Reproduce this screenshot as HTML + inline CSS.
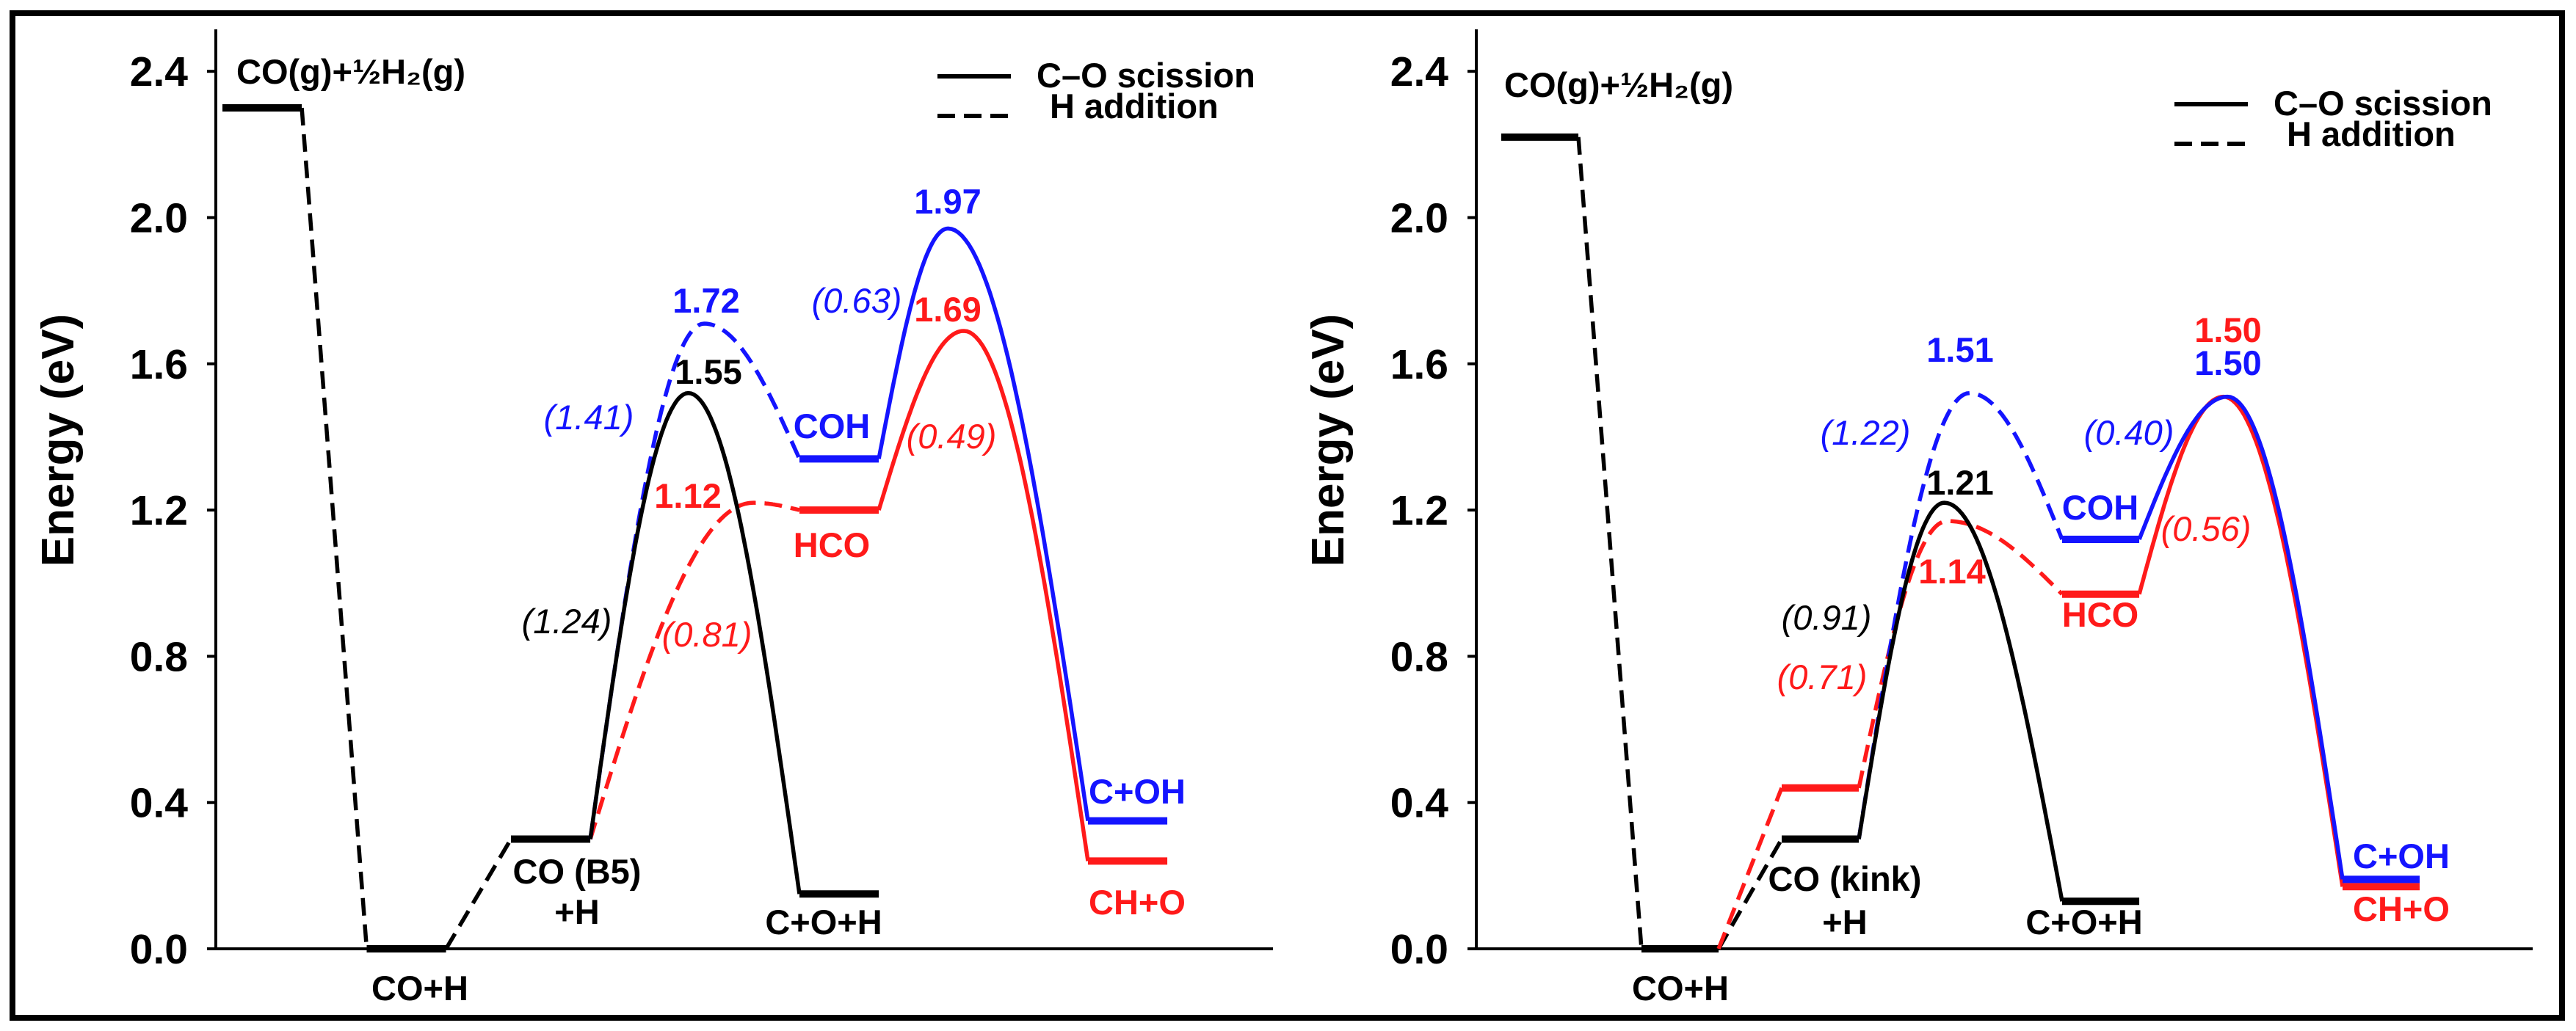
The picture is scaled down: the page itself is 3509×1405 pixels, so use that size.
<!DOCTYPE html>
<html><head><meta charset="utf-8">
<style>
html,body{margin:0;padding:0;background:#fff;}
svg{display:block;}
text{font-family:"Liberation Sans",Arial,sans-serif;}
</style></head>
<body>
<svg id="fig" width="3509" height="1405" viewBox="0 0 3509 1405" xmlns="http://www.w3.org/2000/svg">
<rect x="17" y="18" width="3473" height="1369" fill="none" stroke="#000" stroke-width="8"/>
</svg>
<script>
// ---- data (energies in eV) ----
const yTicks = [0.0, 0.4, 0.8, 1.2, 1.6, 2.0, 2.4];
const yTickLabels = ["0.0","0.4","0.8","1.2","1.6","2.0","2.4"];
// Left panel (B5)
const L_gas = 2.30, L_coh_start = 0.00, L_ads = 0.30;
const L_ts = [1.52, 1.71, 1.22];
const L_mid = [0.15, 1.34, 1.20];
const L_ts2 = [1.97, 1.69];
const L_final = [0.35, 0.24];
// Right panel (kink)
const R_gas = 2.22, R_coh = 0.00, R_adsBlack = 0.30, R_adsRed = 0.44;
const R_ts = [1.22, 1.52, 1.17];
const R_mid = [0.13, 1.12, 0.97];
const R_ts2 = [1.51, 1.51];
const R_final = [0.19, 0.17];
// reaction coordinate of peaks
const L_peakRC = [3.23, 3.34, 3.68], L_peak2RC = [5.03, 5.14];
const R_peakRC = [3.16, 3.34, 3.18], R_peak2RC = [5.18, 5.15];

const svg = document.getElementById('fig');
const NS = 'http://www.w3.org/2000/svg';
function el(tag, attrs){const e=document.createElementNS(NS,tag);for(const k in attrs)e.setAttribute(k,attrs[k]);svg.appendChild(e);return e;}
const yScale = v => 1293 - v*498.25;
const BLUE='#1414ff', RED='#ff1a1a', BLK='#000';

function panel(p){
  const xs = rc => p.x0 + rc*p.unit;
  const W = 0.55;
  let a=el('line',{x1:p.ax,y1:40,x2:p.ax,y2:1295,stroke:'#000','stroke-width':4});
   
  a=el('line',{x1:p.ax,y1:1293,x2:p.axEnd,y2:1293,stroke:'#000','stroke-width':4});
   
  yTicks.forEach((t,i)=>{
    const tk=el('line',{x1:p.ax-12,y1:yScale(t),x2:p.ax,y2:yScale(t),stroke:'#000','stroke-width':4});
     
    const tl=el('text',{x:p.ax-38,y:yScale(t)+20,'text-anchor':'end','font-size':57,'font-weight':'bold'});
    tl.textContent=yTickLabels[i];
     
  });
  const yt=el('text',{x:0,y:0,transform:`translate(${p.titleX},600) rotate(-90)`,'text-anchor':'middle','font-size':62,'font-weight':'bold'});
  yt.textContent='Energy (eV)';
   

  function level(rc,E,color,name){
    const l=el('line',{x1:xs(rc),y1:yScale(E),x2:xs(rc+W),y2:yScale(E),stroke:color,'stroke-width':10});
     
  }
  function seg(rc1,E1,rc2,E2,color,dash,name){
    const l=el('line',{x1:xs(rc1),y1:yScale(E1),x2:xs(rc2),y2:yScale(E2),stroke:color,'stroke-width':5.5,'stroke-dasharray':dash?'24,12':'none'});
     
  }
  function barrier(rc0,E0,rcp,Ep,rc1,E1,color,dash,name){
    let d='';const N=40;
    for(let i=0;i<=N;i++){const t=i/N;const x=xs(rc0+(rcp-rc0)*t);const y=yScale(E0+(Ep-E0)*Math.sin(t*Math.PI/2));d+=(i?'L':'M')+x.toFixed(1)+' '+y.toFixed(1);}
    for(let i=1;i<=N;i++){const t=i/N;const x=xs(rcp+(rc1-rcp)*t);const y=yScale(Ep+(E1-Ep)*(1-Math.cos(t*Math.PI/2)));d+='L'+x.toFixed(1)+' '+y.toFixed(1);}
    const pth=el('path',{d:d,fill:'none',stroke:color,'stroke-width':5.5,'stroke-dasharray':dash?'24,12':'none'});
     
  }
  level(0,p.gas,BLK,'gas-phase-level');
  seg(W,p.gas,1,p.coh,BLK,true,'adsorption-path');
  level(1,p.coh,BLK,'co-h-level');
  p.ads.forEach((E,i)=>{
    seg(1+W,p.coh,2,E,p.adsColor[i],true,'diffusion-path');
    level(2,E,p.adsColor[i],'co-ads-level');
  });
  const cols=[BLK,BLUE,RED], dsh=[false,true,true];
  const adsIdx=p.adsIdx;
  [2,1,0].forEach(i=>{
    barrier(2+W,p.ads[adsIdx[i]],p.peakRC[i],p.ts[i],4,p.mid[i],cols[i],dsh[i],'barrier-step1-'+i);
    level(4,p.mid[i],cols[i],'intermediate-level-'+i);
  });
  [1,0].forEach(i=>{
    barrier(4+W,p.mid[i+1],p.peak2RC[i],p.ts2[i],6,p.final[i],cols[i+1],false,'barrier-step2-'+i);
    level(6,p.final[i],cols[i+1],'final-level-'+i);
  });
  let lg=el('line',{x1:p.lgX,y1:p.lgY,x2:p.lgX+100,y2:p.lgY,stroke:'#000','stroke-width':6});
   
  lg=el('line',{x1:p.lgX,y1:p.lgY+54,x2:p.lgX+100,y2:p.lgY+54,stroke:'#000','stroke-width':6,'stroke-dasharray':'24,12'});
   
  let t=el('text',{x:p.lgX+135,y:p.lgY+15,'font-size':47,'font-weight':'bold'});t.textContent='C–O scission';
   
  t=el('text',{x:p.lgX+153,y:p.lgY+57,'font-size':47,'font-weight':'bold'});t.textContent='H addition';
   
  p.labels.forEach(L=>{
    const tx=el('text',{x:L[0],y:L[1],'text-anchor':'middle','font-size':L[5]||47,'font-weight':L[4]?'normal':'bold','font-style':L[4]?'italic':'normal',fill:L[3]});
    tx.textContent=L[2];
     
  });
}
panel({id:'left',x0:303,unit:196.5,ax:294,axEnd:1734,titleX:100,gas:L_gas,coh:L_coh_start,ads:[L_ads],adsColor:[BLK],adsIdx:[0,0,0],
  ts:L_ts,mid:L_mid,ts2:L_ts2,final:L_final,peakRC:L_peakRC,peak2RC:L_peak2RC,lgX:1277,lgY:104,
  labels:[
   [478,114,'CO(g)+½H₂(g)',BLK],[572,1363,'CO+H',BLK],[786,1204,'CO (B5)',BLK],[786,1259,'+H',BLK],
   [1122,1273,'C+O+H',BLK],[1133,597,'COH',BLUE],[1133,759,'HCO',RED],[1549,1095,'C+OH',BLUE],[1549,1246,'CH+O',RED],
   [962,426,'1.72',BLUE],[965,523,'1.55',BLK],[802,585,'(1.41)',BLUE,1],[937,692,'1.12',RED],[772,863,'(1.24)',BLK,1],
   [963,881,'(0.81)',RED,1],[1167,426,'(0.63)',BLUE,1],[1291,291,'1.97',BLUE],[1291,438,'1.69',RED],[1296,611,'(0.49)',RED,1]
  ]});
panel({id:'right',x0:2045,unit:191,ax:2011,axEnd:3450,titleX:1830,gas:R_gas,coh:R_coh,ads:[R_adsBlack,R_adsRed],adsColor:[BLK,RED],adsIdx:[0,0,1],
  ts:R_ts,mid:R_mid,ts2:R_ts2,final:R_final,peakRC:R_peakRC,peak2RC:R_peak2RC,lgX:2962,lgY:142,
  labels:[
   [2205,132,'CO(g)+½H₂(g)',BLK],[2289,1363,'CO+H',BLK],[2513,1214,'CO (kink)',BLK,0],[2513,1273,'+H',BLK],
   [2839,1273,'C+O+H',BLK],[2861,708,'COH',BLUE],[2861,854,'HCO',RED],[3271,1183,'C+OH',BLUE],[3271,1255,'CH+O',RED],
   [2670,493,'1.51',BLUE],[2670,674,'1.21',BLK],[2541,606,'(1.22)',BLUE,1],[2659,795,'1.14',RED],[2488,858,'(0.91)',BLK,1],
   [2482,939,'(0.71)',RED,1],[2900,606,'(0.40)',BLUE,1],[3005,737,'(0.56)',RED,1],[3035,466,'1.50',RED],[3035,511,'1.50',BLUE]
  ]});
</script>
</body></html>
